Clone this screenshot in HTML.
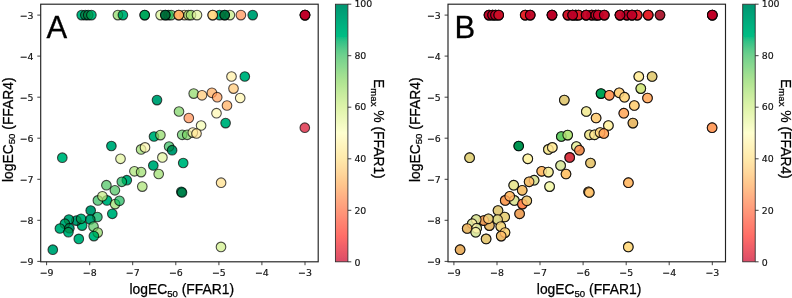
<!DOCTYPE html>
<html><head><meta charset="utf-8"><title>Figure</title>
<style>
html,body{margin:0;padding:0;background:#fff;}
svg{display:block;}
.tk text{font-family:"DejaVu Sans","Liberation Sans",sans-serif;font-size:9.4px;fill:#111;stroke:#111;stroke-width:0.15px;}
.big{font-family:"Liberation Sans",sans-serif;font-size:31px;fill:#000;stroke:#000;stroke-width:0.3px;}
.lab{font-family:"Liberation Sans",sans-serif;font-size:13.85px;fill:#000;stroke:#000;stroke-width:0.25px;}
.sub{font-size:9.6px;}
</style></head><body>
<svg width="792" height="298" viewBox="0 0 792 298">
<defs><linearGradient id="cb" x1="0" y1="0" x2="0" y2="1">
<stop offset="0%" stop-color="#006837"/>
<stop offset="2%" stop-color="#05713c"/>
<stop offset="4%" stop-color="#0a7b41"/>
<stop offset="6%" stop-color="#0f8446"/>
<stop offset="8%" stop-color="#148e4b"/>
<stop offset="10%" stop-color="#199750"/>
<stop offset="12%" stop-color="#279f53"/>
<stop offset="14%" stop-color="#36a657"/>
<stop offset="16%" stop-color="#45ad5b"/>
<stop offset="18%" stop-color="#57b65f"/>
<stop offset="20%" stop-color="#66bd63"/>
<stop offset="22%" stop-color="#73c264"/>
<stop offset="24%" stop-color="#7fc866"/>
<stop offset="26%" stop-color="#8ccd67"/>
<stop offset="28%" stop-color="#98d368"/>
<stop offset="30%" stop-color="#a5d86a"/>
<stop offset="32%" stop-color="#afdd70"/>
<stop offset="34%" stop-color="#bbe278"/>
<stop offset="36%" stop-color="#c5e67e"/>
<stop offset="38%" stop-color="#cfeb85"/>
<stop offset="40%" stop-color="#d9ef8b"/>
<stop offset="42%" stop-color="#e0f295"/>
<stop offset="44%" stop-color="#e8f59f"/>
<stop offset="46%" stop-color="#eff8aa"/>
<stop offset="48%" stop-color="#f7fcb4"/>
<stop offset="50%" stop-color="#feffbe"/>
<stop offset="52%" stop-color="#fff8b4"/>
<stop offset="54%" stop-color="#fff2aa"/>
<stop offset="56%" stop-color="#feec9f"/>
<stop offset="58%" stop-color="#fee695"/>
<stop offset="60%" stop-color="#fee08b"/>
<stop offset="62%" stop-color="#fed683"/>
<stop offset="64%" stop-color="#fecc7b"/>
<stop offset="66%" stop-color="#fdc372"/>
<stop offset="68%" stop-color="#fdb768"/>
<stop offset="70%" stop-color="#fdad60"/>
<stop offset="72%" stop-color="#fba05b"/>
<stop offset="74%" stop-color="#f99355"/>
<stop offset="76%" stop-color="#f8864f"/>
<stop offset="78%" stop-color="#f67a49"/>
<stop offset="80%" stop-color="#f46d43"/>
<stop offset="82%" stop-color="#ee613e"/>
<stop offset="84%" stop-color="#e75337"/>
<stop offset="86%" stop-color="#e24731"/>
<stop offset="88%" stop-color="#dc3b2c"/>
<stop offset="90%" stop-color="#d62f27"/>
<stop offset="92%" stop-color="#cc2627"/>
<stop offset="94%" stop-color="#c21c27"/>
<stop offset="96%" stop-color="#b91326"/>
<stop offset="98%" stop-color="#af0926"/>
<stop offset="100%" stop-color="#a50026"/>
</linearGradient>
<filter id="cc" filterUnits="userSpaceOnUse" x="0" y="0" width="792" height="298" color-interpolation-filters="linearRGB">
<feColorMatrix type="matrix" values="1.3984 -0.3984 0 0 0  0 1 0 0 0  0 -0.0429 1.0429 0 0  0 0 0 1 0"/>
<feGaussianBlur stdDeviation="0.45"/>
</filter></defs>
<g filter="url(#cc)">
<rect width="792" height="298" fill="#fff"/>
<g stroke="#000" stroke-width="1.1" fill-opacity="0.7" stroke-opacity="0.7">
<circle cx="81.7" cy="15.1" r="4.8" fill="#199750"/>
<circle cx="85.3" cy="15.1" r="4.8" fill="#07753e"/>
<circle cx="88.2" cy="15.1" r="4.8" fill="#0c7f43"/>
<circle cx="91.4" cy="15.1" r="4.8" fill="#279f53"/>
<circle cx="117.9" cy="15.1" r="4.8" fill="#a5d86a"/>
<circle cx="122.9" cy="15.1" r="4.8" fill="#199750"/>
<circle cx="144.7" cy="15.1" r="4.8" fill="#279f53"/>
<circle cx="144.7" cy="15.1" r="4.8" fill="#279f53"/>
<circle cx="160.6" cy="15.1" r="4.8" fill="#e0f295"/>
<circle cx="168.5" cy="15.1" r="4.8" fill="#148e4b"/>
<circle cx="171.2" cy="15.1" r="4.8" fill="#84ca66"/>
<circle cx="165.3" cy="15.1" r="4.8" fill="#006837"/>
<circle cx="165.3" cy="15.1" r="4.8" fill="#006837"/>
<circle cx="184.5" cy="15.1" r="4.8" fill="#fee08b"/>
<circle cx="178.8" cy="15.1" r="4.8" fill="#fdad60"/>
<circle cx="178.8" cy="15.1" r="4.8" fill="#fdad60"/>
<circle cx="188.6" cy="15.1" r="4.8" fill="#afdd70"/>
<circle cx="191.0" cy="15.1" r="4.8" fill="#bbe278"/>
<circle cx="197.0" cy="15.1" r="4.8" fill="#e8f59f"/>
<circle cx="219.6" cy="15.1" r="4.8" fill="#199750"/>
<circle cx="212.7" cy="15.1" r="4.8" fill="#fed683"/>
<circle cx="212.7" cy="15.1" r="4.8" fill="#fed683"/>
<circle cx="229.9" cy="15.1" r="4.8" fill="#cfeb85"/>
<circle cx="224.7" cy="15.1" r="4.8" fill="#05713c"/>
<circle cx="224.7" cy="15.1" r="4.8" fill="#05713c"/>
<circle cx="240.9" cy="15.1" r="4.8" fill="#f98e52"/>
<circle cx="252.7" cy="15.1" r="4.8" fill="#0c7f43"/>
<circle cx="305.0" cy="15.1" r="4.8" fill="#a50026"/>
<circle cx="305.0" cy="15.1" r="4.8" fill="#a50026"/>
<circle cx="305.0" cy="15.1" r="4.8" fill="#a50026"/>
<circle cx="305.0" cy="15.1" r="4.8" fill="#a50026"/>
<circle cx="231.5" cy="76.5" r="4.8" fill="#fff0a6"/>
<circle cx="244.8" cy="76.5" r="4.8" fill="#199750"/>
<circle cx="233.5" cy="88.6" r="4.8" fill="#fdc776"/>
<circle cx="193.7" cy="93.6" r="4.8" fill="#a5d86a"/>
<circle cx="202.0" cy="95.3" r="4.8" fill="#fdc776"/>
<circle cx="211.9" cy="92.8" r="4.8" fill="#fdad60"/>
<circle cx="217.2" cy="97.2" r="4.8" fill="#fba05b"/>
<circle cx="240.2" cy="98.0" r="4.8" fill="#fff6b0"/>
<circle cx="227.0" cy="105.5" r="4.8" fill="#fdad60"/>
<circle cx="216.5" cy="113.2" r="4.8" fill="#fff8b4"/>
<circle cx="179.0" cy="111.5" r="4.8" fill="#98d368"/>
<circle cx="188.8" cy="118.0" r="4.8" fill="#f98e52"/>
<circle cx="225.6" cy="123.1" r="4.8" fill="#199750"/>
<circle cx="201.1" cy="125.5" r="4.8" fill="#f7fcb4"/>
<circle cx="304.8" cy="127.7" r="4.8" fill="#af0926"/>
<circle cx="157.0" cy="100.1" r="4.8" fill="#0c7f43"/>
<circle cx="182.2" cy="134.8" r="4.8" fill="#84ca66"/>
<circle cx="187.2" cy="134.8" r="4.8" fill="#98d368"/>
<circle cx="192.8" cy="132.6" r="4.8" fill="#fff6b0"/>
<circle cx="196.5" cy="133.5" r="4.8" fill="#fee695"/>
<circle cx="154.0" cy="136.5" r="4.8" fill="#199750"/>
<circle cx="160.4" cy="135.1" r="4.8" fill="#a5d86a"/>
<circle cx="111.4" cy="146.0" r="4.8" fill="#148e4b"/>
<circle cx="141.1" cy="149.4" r="4.8" fill="#afdd70"/>
<circle cx="145.0" cy="147.4" r="4.8" fill="#fff8b4"/>
<circle cx="169.1" cy="146.5" r="4.8" fill="#66bd63"/>
<circle cx="172.1" cy="150.2" r="4.8" fill="#07753e"/>
<circle cx="120.5" cy="158.8" r="4.8" fill="#e8f59f"/>
<circle cx="162.4" cy="157.4" r="4.8" fill="#e8f59f"/>
<circle cx="183.2" cy="163.0" r="4.8" fill="#279f53"/>
<circle cx="153.3" cy="165.5" r="4.8" fill="#148e4b"/>
<circle cx="62.3" cy="157.7" r="4.8" fill="#279f53"/>
<circle cx="158.7" cy="174.0" r="4.8" fill="#afdd70"/>
<circle cx="134.4" cy="171.3" r="4.8" fill="#bbe278"/>
<circle cx="141.1" cy="172.1" r="4.8" fill="#afdd70"/>
<circle cx="126.8" cy="180.2" r="4.8" fill="#148e4b"/>
<circle cx="121.8" cy="181.8" r="4.8" fill="#57b65f"/>
<circle cx="106.4" cy="185.2" r="4.8" fill="#73c264"/>
<circle cx="142.3" cy="186.6" r="4.8" fill="#bbe278"/>
<circle cx="114.9" cy="190.3" r="4.8" fill="#73c264"/>
<circle cx="221.1" cy="182.7" r="4.8" fill="#fee08b"/>
<circle cx="181.3" cy="191.8" r="4.8" fill="#148e4b"/>
<circle cx="182.0" cy="192.5" r="4.8" fill="#05713c"/>
<circle cx="97.9" cy="200.4" r="4.8" fill="#66bd63"/>
<circle cx="107.0" cy="200.4" r="4.8" fill="#199750"/>
<circle cx="102.4" cy="196.3" r="4.8" fill="#cfeb85"/>
<circle cx="115.1" cy="204.1" r="4.8" fill="#afdd70"/>
<circle cx="119.5" cy="200.8" r="4.8" fill="#57b65f"/>
<circle cx="112.3" cy="213.8" r="4.8" fill="#199750"/>
<circle cx="90.7" cy="210.5" r="4.8" fill="#07753e"/>
<circle cx="97.4" cy="217.0" r="4.8" fill="#3faa59"/>
<circle cx="90.3" cy="219.5" r="4.8" fill="#0c7f43"/>
<circle cx="93.5" cy="226.6" r="4.8" fill="#7fc866"/>
<circle cx="97.7" cy="232.6" r="4.8" fill="#a5d86a"/>
<circle cx="93.9" cy="236.1" r="4.8" fill="#279f53"/>
<circle cx="82.1" cy="225.6" r="4.8" fill="#279f53"/>
<circle cx="76.4" cy="220.6" r="4.8" fill="#07753e"/>
<circle cx="81.1" cy="218.8" r="4.8" fill="#199750"/>
<circle cx="68.9" cy="219.6" r="4.8" fill="#118848"/>
<circle cx="64.9" cy="223.7" r="4.8" fill="#148e4b"/>
<circle cx="59.9" cy="228.5" r="4.8" fill="#199750"/>
<circle cx="69.4" cy="228.2" r="4.8" fill="#07753e"/>
<circle cx="68.4" cy="232.2" r="4.8" fill="#199750"/>
<circle cx="78.8" cy="238.9" r="4.8" fill="#199750"/>
<circle cx="52.8" cy="249.7" r="4.8" fill="#118848"/>
<circle cx="221.0" cy="246.9" r="4.8" fill="#d9ef8b"/>
</g>
<rect x="40.7" y="4.2" width="277.5" height="257.6" fill="none" stroke="#222" stroke-width="1.15"/>
<g stroke="#2a2a2a" stroke-width="0.9">
<line x1="46.6" y1="261.8" x2="46.6" y2="265.2"/>
<line x1="37.3" y1="15.1" x2="40.7" y2="15.1"/>
<line x1="89.7" y1="261.8" x2="89.7" y2="265.2"/>
<line x1="37.3" y1="56.1" x2="40.7" y2="56.1"/>
<line x1="132.7" y1="261.8" x2="132.7" y2="265.2"/>
<line x1="37.3" y1="97.2" x2="40.7" y2="97.2"/>
<line x1="175.8" y1="261.8" x2="175.8" y2="265.2"/>
<line x1="37.3" y1="138.2" x2="40.7" y2="138.2"/>
<line x1="218.9" y1="261.8" x2="218.9" y2="265.2"/>
<line x1="37.3" y1="179.3" x2="40.7" y2="179.3"/>
<line x1="261.9" y1="261.8" x2="261.9" y2="265.2"/>
<line x1="37.3" y1="220.3" x2="40.7" y2="220.3"/>
<line x1="305.0" y1="261.8" x2="305.0" y2="265.2"/>
<line x1="37.3" y1="261.4" x2="40.7" y2="261.4"/>
</g>
<g class="tk">
<text x="46.6" y="275.8" text-anchor="middle">−9</text>
<text x="33.5" y="18.6" text-anchor="end">−3</text>
<text x="89.7" y="275.8" text-anchor="middle">−8</text>
<text x="33.5" y="59.6" text-anchor="end">−4</text>
<text x="132.7" y="275.8" text-anchor="middle">−7</text>
<text x="33.5" y="100.7" text-anchor="end">−5</text>
<text x="175.8" y="275.8" text-anchor="middle">−6</text>
<text x="33.5" y="141.8" text-anchor="end">−6</text>
<text x="218.9" y="275.8" text-anchor="middle">−5</text>
<text x="33.5" y="182.8" text-anchor="end">−7</text>
<text x="261.9" y="275.8" text-anchor="middle">−4</text>
<text x="33.5" y="223.8" text-anchor="end">−8</text>
<text x="305.0" y="275.8" text-anchor="middle">−3</text>
<text x="33.5" y="264.9" text-anchor="end">−9</text>
</g>
<text class="big" x="46.4" y="38.3">A</text>
<text class="lab" x="181.8" y="294.2" text-anchor="middle">logEC<tspan class="sub" dy="2.5">50</tspan><tspan dy="-2.5"> (FFAR1)</tspan></text>
<text class="lab" transform="translate(12.6,129.7) rotate(-90)" text-anchor="middle">logEC<tspan class="sub" dy="2.5">50</tspan><tspan dy="-2.5"> (FFAR4)</tspan></text>
<rect x="335.4" y="4.2" width="12.5" height="257.6" fill="url(#cb)" fill-opacity="0.7"/>
<rect x="335.4" y="4.2" width="12.5" height="257.6" fill="none" stroke="#2a2a2a" stroke-width="0.85"/>
<g stroke="#2a2a2a" stroke-width="0.9">
<line x1="347.9" y1="4.2" x2="351.3" y2="4.2"/>
<line x1="347.9" y1="55.7" x2="351.3" y2="55.7"/>
<line x1="347.9" y1="107.2" x2="351.3" y2="107.2"/>
<line x1="347.9" y1="158.8" x2="351.3" y2="158.8"/>
<line x1="347.9" y1="210.3" x2="351.3" y2="210.3"/>
<line x1="347.9" y1="261.8" x2="351.3" y2="261.8"/>
</g><g class="tk">
<text x="354.4" y="6.8">100</text>
<text x="354.4" y="58.6">80</text>
<text x="354.4" y="110.3">60</text>
<text x="354.4" y="162.1">40</text>
<text x="354.4" y="213.8">20</text>
<text x="354.4" y="265.6">0</text>
</g>
<text class="lab" transform="translate(373.9,128.9) rotate(90)" text-anchor="middle">E<tspan class="sub" dy="2.5">max</tspan><tspan dy="-2.5"> % (FFAR1)</tspan></text>
<g stroke="#000" stroke-width="1.1" fill-opacity="0.7" stroke-opacity="0.7">
<circle cx="489.0" cy="15.1" r="4.8" fill="#199750"/>
<circle cx="492.6" cy="15.1" r="4.8" fill="#07753e"/>
<circle cx="495.5" cy="15.1" r="4.8" fill="#0c7f43"/>
<circle cx="498.7" cy="15.1" r="4.8" fill="#279f53"/>
<circle cx="525.2" cy="15.1" r="4.8" fill="#a5d86a"/>
<circle cx="530.2" cy="15.1" r="4.8" fill="#199750"/>
<circle cx="552.0" cy="15.1" r="4.8" fill="#279f53"/>
<circle cx="552.0" cy="15.1" r="4.8" fill="#279f53"/>
<circle cx="567.9" cy="15.1" r="4.8" fill="#e0f295"/>
<circle cx="575.8" cy="15.1" r="4.8" fill="#148e4b"/>
<circle cx="578.5" cy="15.1" r="4.8" fill="#84ca66"/>
<circle cx="572.6" cy="15.1" r="4.8" fill="#006837"/>
<circle cx="572.6" cy="15.1" r="4.8" fill="#006837"/>
<circle cx="591.8" cy="15.1" r="4.8" fill="#fee08b"/>
<circle cx="586.1" cy="15.1" r="4.8" fill="#fdad60"/>
<circle cx="586.1" cy="15.1" r="4.8" fill="#fdad60"/>
<circle cx="595.9" cy="15.1" r="4.8" fill="#afdd70"/>
<circle cx="598.3" cy="15.1" r="4.8" fill="#bbe278"/>
<circle cx="604.3" cy="15.1" r="4.8" fill="#e8f59f"/>
<circle cx="626.9" cy="15.1" r="4.8" fill="#199750"/>
<circle cx="620.0" cy="15.1" r="4.8" fill="#fed683"/>
<circle cx="620.0" cy="15.1" r="4.8" fill="#fed683"/>
<circle cx="637.2" cy="15.1" r="4.8" fill="#cfeb85"/>
<circle cx="632.0" cy="15.1" r="4.8" fill="#05713c"/>
<circle cx="632.0" cy="15.1" r="4.8" fill="#05713c"/>
<circle cx="648.2" cy="15.1" r="4.8" fill="#f98e52"/>
<circle cx="660.0" cy="15.1" r="4.8" fill="#0c7f43"/>
<circle cx="638.8" cy="76.5" r="4.8" fill="#fff0a6"/>
<circle cx="652.1" cy="76.5" r="4.8" fill="#199750"/>
<circle cx="640.8" cy="88.6" r="4.8" fill="#fdc776"/>
<circle cx="601.0" cy="93.6" r="4.8" fill="#a5d86a"/>
<circle cx="609.3" cy="95.3" r="4.8" fill="#fdc776"/>
<circle cx="619.2" cy="92.8" r="4.8" fill="#fdad60"/>
<circle cx="624.5" cy="97.2" r="4.8" fill="#fba05b"/>
<circle cx="647.5" cy="98.0" r="4.8" fill="#fff6b0"/>
<circle cx="634.3" cy="105.5" r="4.8" fill="#fdad60"/>
<circle cx="623.8" cy="113.2" r="4.8" fill="#fff8b4"/>
<circle cx="586.3" cy="111.5" r="4.8" fill="#98d368"/>
<circle cx="596.1" cy="118.0" r="4.8" fill="#f98e52"/>
<circle cx="632.9" cy="123.1" r="4.8" fill="#199750"/>
<circle cx="608.4" cy="125.5" r="4.8" fill="#f7fcb4"/>
<circle cx="712.1" cy="127.7" r="4.8" fill="#af0926"/>
<circle cx="564.3" cy="100.1" r="4.8" fill="#0c7f43"/>
<circle cx="589.5" cy="134.8" r="4.8" fill="#84ca66"/>
<circle cx="594.5" cy="134.8" r="4.8" fill="#98d368"/>
<circle cx="600.1" cy="132.6" r="4.8" fill="#fff6b0"/>
<circle cx="603.8" cy="133.5" r="4.8" fill="#fee695"/>
<circle cx="561.3" cy="136.5" r="4.8" fill="#199750"/>
<circle cx="567.7" cy="135.1" r="4.8" fill="#a5d86a"/>
<circle cx="518.7" cy="146.0" r="4.8" fill="#148e4b"/>
<circle cx="548.4" cy="149.4" r="4.8" fill="#afdd70"/>
<circle cx="552.3" cy="147.4" r="4.8" fill="#fff8b4"/>
<circle cx="576.4" cy="146.5" r="4.8" fill="#66bd63"/>
<circle cx="579.4" cy="150.2" r="4.8" fill="#07753e"/>
<circle cx="527.8" cy="158.8" r="4.8" fill="#e8f59f"/>
<circle cx="569.7" cy="157.4" r="4.8" fill="#e8f59f"/>
<circle cx="590.5" cy="163.0" r="4.8" fill="#279f53"/>
<circle cx="560.6" cy="165.5" r="4.8" fill="#148e4b"/>
<circle cx="469.6" cy="157.7" r="4.8" fill="#279f53"/>
<circle cx="566.0" cy="174.0" r="4.8" fill="#afdd70"/>
<circle cx="541.7" cy="171.3" r="4.8" fill="#bbe278"/>
<circle cx="548.4" cy="172.1" r="4.8" fill="#afdd70"/>
<circle cx="534.1" cy="180.2" r="4.8" fill="#148e4b"/>
<circle cx="529.1" cy="181.8" r="4.8" fill="#57b65f"/>
<circle cx="513.7" cy="185.2" r="4.8" fill="#73c264"/>
<circle cx="549.6" cy="186.6" r="4.8" fill="#bbe278"/>
<circle cx="522.2" cy="190.3" r="4.8" fill="#73c264"/>
<circle cx="628.4" cy="182.7" r="4.8" fill="#fee08b"/>
<circle cx="588.6" cy="191.8" r="4.8" fill="#148e4b"/>
<circle cx="589.3" cy="192.5" r="4.8" fill="#05713c"/>
<circle cx="505.2" cy="200.4" r="4.8" fill="#66bd63"/>
<circle cx="514.3" cy="200.4" r="4.8" fill="#199750"/>
<circle cx="509.7" cy="196.3" r="4.8" fill="#cfeb85"/>
<circle cx="522.4" cy="204.1" r="4.8" fill="#afdd70"/>
<circle cx="526.8" cy="200.8" r="4.8" fill="#57b65f"/>
<circle cx="519.6" cy="213.8" r="4.8" fill="#199750"/>
<circle cx="498.0" cy="210.5" r="4.8" fill="#07753e"/>
<circle cx="504.7" cy="217.0" r="4.8" fill="#3faa59"/>
<circle cx="497.6" cy="219.5" r="4.8" fill="#0c7f43"/>
<circle cx="500.8" cy="226.6" r="4.8" fill="#7fc866"/>
<circle cx="505.0" cy="232.6" r="4.8" fill="#a5d86a"/>
<circle cx="501.2" cy="236.1" r="4.8" fill="#279f53"/>
<circle cx="489.4" cy="225.6" r="4.8" fill="#279f53"/>
<circle cx="483.7" cy="220.6" r="4.8" fill="#07753e"/>
<circle cx="488.4" cy="218.8" r="4.8" fill="#199750"/>
<circle cx="476.2" cy="219.6" r="4.8" fill="#118848"/>
<circle cx="472.2" cy="223.7" r="4.8" fill="#148e4b"/>
<circle cx="467.2" cy="228.5" r="4.8" fill="#199750"/>
<circle cx="476.7" cy="228.2" r="4.8" fill="#07753e"/>
<circle cx="475.7" cy="232.2" r="4.8" fill="#199750"/>
<circle cx="486.1" cy="238.9" r="4.8" fill="#199750"/>
<circle cx="460.1" cy="249.7" r="4.8" fill="#118848"/>
<circle cx="628.3" cy="246.9" r="4.8" fill="#d9ef8b"/>
</g>
<g stroke="#000" stroke-width="1.1" fill-opacity="0.8" stroke-opacity="0.8">
<circle cx="489.0" cy="15.1" r="4.8" fill="#a50026"/>
<circle cx="489.0" cy="15.1" r="4.8" fill="#a50026"/>
<circle cx="492.6" cy="15.1" r="4.8" fill="#a50026"/>
<circle cx="492.6" cy="15.1" r="4.8" fill="#a50026"/>
<circle cx="495.5" cy="15.1" r="4.8" fill="#a90426"/>
<circle cx="495.5" cy="15.1" r="4.8" fill="#a90426"/>
<circle cx="498.7" cy="15.1" r="4.8" fill="#b30d26"/>
<circle cx="498.7" cy="15.1" r="4.8" fill="#b30d26"/>
<circle cx="525.2" cy="15.1" r="4.8" fill="#c62027"/>
<circle cx="525.2" cy="15.1" r="4.8" fill="#c62027"/>
<circle cx="530.2" cy="15.1" r="4.8" fill="#a90426"/>
<circle cx="530.2" cy="15.1" r="4.8" fill="#a90426"/>
<circle cx="552.0" cy="15.1" r="4.8" fill="#a50026"/>
<circle cx="552.0" cy="15.1" r="4.8" fill="#a50026"/>
<circle cx="567.9" cy="15.1" r="4.8" fill="#b30d26"/>
<circle cx="567.9" cy="15.1" r="4.8" fill="#b30d26"/>
<circle cx="575.8" cy="15.1" r="4.8" fill="#a90426"/>
<circle cx="575.8" cy="15.1" r="4.8" fill="#a90426"/>
<circle cx="578.5" cy="15.1" r="4.8" fill="#c21c27"/>
<circle cx="578.5" cy="15.1" r="4.8" fill="#c21c27"/>
<circle cx="572.6" cy="15.1" r="4.8" fill="#a50026"/>
<circle cx="572.6" cy="15.1" r="4.8" fill="#a50026"/>
<circle cx="591.8" cy="15.1" r="4.8" fill="#a90426"/>
<circle cx="591.8" cy="15.1" r="4.8" fill="#a90426"/>
<circle cx="586.1" cy="15.1" r="4.8" fill="#a50026"/>
<circle cx="586.1" cy="15.1" r="4.8" fill="#a50026"/>
<circle cx="595.9" cy="15.1" r="4.8" fill="#a90426"/>
<circle cx="595.9" cy="15.1" r="4.8" fill="#a90426"/>
<circle cx="598.3" cy="15.1" r="4.8" fill="#a90426"/>
<circle cx="598.3" cy="15.1" r="4.8" fill="#a90426"/>
<circle cx="604.3" cy="15.1" r="4.8" fill="#a90426"/>
<circle cx="604.3" cy="15.1" r="4.8" fill="#a90426"/>
<circle cx="626.9" cy="15.1" r="4.8" fill="#a50026"/>
<circle cx="626.9" cy="15.1" r="4.8" fill="#a50026"/>
<circle cx="620.0" cy="15.1" r="4.8" fill="#a50026"/>
<circle cx="620.0" cy="15.1" r="4.8" fill="#a50026"/>
<circle cx="637.2" cy="15.1" r="4.8" fill="#c21c27"/>
<circle cx="637.2" cy="15.1" r="4.8" fill="#c21c27"/>
<circle cx="632.0" cy="15.1" r="4.8" fill="#a50026"/>
<circle cx="632.0" cy="15.1" r="4.8" fill="#a50026"/>
<circle cx="648.2" cy="15.1" r="4.8" fill="#c21c27"/>
<circle cx="648.2" cy="15.1" r="4.8" fill="#c21c27"/>
<circle cx="660.0" cy="15.1" r="4.8" fill="#a50026"/>
<circle cx="712.3" cy="15.1" r="4.8" fill="#a50026"/>
<circle cx="712.3" cy="15.1" r="4.8" fill="#a50026"/>
<circle cx="712.3" cy="15.1" r="4.8" fill="#a50026"/>
<circle cx="712.3" cy="15.1" r="4.8" fill="#a50026"/>
<circle cx="638.8" cy="76.5" r="4.8" fill="#feec9f"/>
<circle cx="652.1" cy="76.5" r="4.8" fill="#fed683"/>
<circle cx="640.8" cy="88.6" r="4.8" fill="#cfeb85"/>
<circle cx="601.0" cy="93.6" r="4.8" fill="#17934e"/>
<circle cx="609.3" cy="95.3" r="4.8" fill="#f98e52"/>
<circle cx="619.2" cy="92.8" r="4.8" fill="#fed683"/>
<circle cx="624.5" cy="97.2" r="4.8" fill="#fee08b"/>
<circle cx="647.5" cy="98.0" r="4.8" fill="#fba05b"/>
<circle cx="634.3" cy="105.5" r="4.8" fill="#fed683"/>
<circle cx="623.8" cy="113.2" r="4.8" fill="#fba05b"/>
<circle cx="586.3" cy="111.5" r="4.8" fill="#fff0a6"/>
<circle cx="596.1" cy="118.0" r="4.8" fill="#feda86"/>
<circle cx="632.9" cy="123.1" r="4.8" fill="#fdbd6d"/>
<circle cx="608.4" cy="125.5" r="4.8" fill="#fff0a6"/>
<circle cx="712.1" cy="127.7" r="4.8" fill="#fdb365"/>
<circle cx="564.3" cy="100.1" r="4.8" fill="#fed683"/>
<circle cx="589.5" cy="134.8" r="4.8" fill="#feea9b"/>
<circle cx="594.5" cy="134.8" r="4.8" fill="#feea9b"/>
<circle cx="600.1" cy="132.6" r="4.8" fill="#feda86"/>
<circle cx="603.8" cy="133.5" r="4.8" fill="#fba05b"/>
<circle cx="561.3" cy="136.5" r="4.8" fill="#98d368"/>
<circle cx="567.7" cy="135.1" r="4.8" fill="#c5e67e"/>
<circle cx="518.7" cy="146.0" r="4.8" fill="#148e4b"/>
<circle cx="548.4" cy="149.4" r="4.8" fill="#feea9b"/>
<circle cx="552.3" cy="147.4" r="4.8" fill="#feea9b"/>
<circle cx="576.4" cy="146.5" r="4.8" fill="#fff6b0"/>
<circle cx="579.4" cy="150.2" r="4.8" fill="#f98e52"/>
<circle cx="527.8" cy="158.8" r="4.8" fill="#fff2aa"/>
<circle cx="569.7" cy="157.4" r="4.8" fill="#af0926"/>
<circle cx="590.5" cy="163.0" r="4.8" fill="#fecc7b"/>
<circle cx="560.6" cy="165.5" r="4.8" fill="#fff6b0"/>
<circle cx="469.6" cy="157.7" r="4.8" fill="#feda86"/>
<circle cx="566.0" cy="174.0" r="4.8" fill="#fdbd6d"/>
<circle cx="541.7" cy="171.3" r="4.8" fill="#fdb365"/>
<circle cx="548.4" cy="172.1" r="4.8" fill="#fff0a6"/>
<circle cx="534.1" cy="180.2" r="4.8" fill="#fff2aa"/>
<circle cx="529.1" cy="181.8" r="4.8" fill="#fdbd6d"/>
<circle cx="513.7" cy="185.2" r="4.8" fill="#feec9f"/>
<circle cx="549.6" cy="186.6" r="4.8" fill="#fffcba"/>
<circle cx="522.2" cy="190.3" r="4.8" fill="#fdbd6d"/>
<circle cx="628.4" cy="182.7" r="4.8" fill="#fdb365"/>
<circle cx="588.6" cy="191.8" r="4.8" fill="#fdbd6d"/>
<circle cx="589.3" cy="192.5" r="4.8" fill="#fecc7b"/>
<circle cx="505.2" cy="200.4" r="4.8" fill="#f99355"/>
<circle cx="514.3" cy="200.4" r="4.8" fill="#fff2aa"/>
<circle cx="509.7" cy="196.3" r="4.8" fill="#fdb365"/>
<circle cx="522.4" cy="204.1" r="4.8" fill="#f57245"/>
<circle cx="526.8" cy="200.8" r="4.8" fill="#fecc7b"/>
<circle cx="519.6" cy="213.8" r="4.8" fill="#fba05b"/>
<circle cx="498.0" cy="210.5" r="4.8" fill="#fed683"/>
<circle cx="504.7" cy="217.0" r="4.8" fill="#fed683"/>
<circle cx="497.6" cy="219.5" r="4.8" fill="#fee695"/>
<circle cx="500.8" cy="226.6" r="4.8" fill="#feda86"/>
<circle cx="505.0" cy="232.6" r="4.8" fill="#fed683"/>
<circle cx="501.2" cy="236.1" r="4.8" fill="#fdbd6d"/>
<circle cx="489.4" cy="225.6" r="4.8" fill="#fdbd6d"/>
<circle cx="483.7" cy="220.6" r="4.8" fill="#fba05b"/>
<circle cx="488.4" cy="218.8" r="4.8" fill="#fed683"/>
<circle cx="476.2" cy="219.6" r="4.8" fill="#fff2aa"/>
<circle cx="472.2" cy="223.7" r="4.8" fill="#fff2aa"/>
<circle cx="467.2" cy="228.5" r="4.8" fill="#fdbd6d"/>
<circle cx="476.7" cy="228.2" r="4.8" fill="#fff6b0"/>
<circle cx="475.7" cy="232.2" r="4.8" fill="#fff6b0"/>
<circle cx="486.1" cy="238.9" r="4.8" fill="#fed07e"/>
<circle cx="460.1" cy="249.7" r="4.8" fill="#fdb365"/>
<circle cx="628.3" cy="246.9" r="4.8" fill="#fed683"/>
</g>
<rect x="448.0" y="4.2" width="277.5" height="257.6" fill="none" stroke="#222" stroke-width="1.15"/>
<g stroke="#2a2a2a" stroke-width="0.9">
<line x1="453.9" y1="261.8" x2="453.9" y2="265.2"/>
<line x1="444.6" y1="15.1" x2="448.0" y2="15.1"/>
<line x1="497.0" y1="261.8" x2="497.0" y2="265.2"/>
<line x1="444.6" y1="56.1" x2="448.0" y2="56.1"/>
<line x1="540.0" y1="261.8" x2="540.0" y2="265.2"/>
<line x1="444.6" y1="97.2" x2="448.0" y2="97.2"/>
<line x1="583.1" y1="261.8" x2="583.1" y2="265.2"/>
<line x1="444.6" y1="138.2" x2="448.0" y2="138.2"/>
<line x1="626.2" y1="261.8" x2="626.2" y2="265.2"/>
<line x1="444.6" y1="179.3" x2="448.0" y2="179.3"/>
<line x1="669.2" y1="261.8" x2="669.2" y2="265.2"/>
<line x1="444.6" y1="220.3" x2="448.0" y2="220.3"/>
<line x1="712.3" y1="261.8" x2="712.3" y2="265.2"/>
<line x1="444.6" y1="261.4" x2="448.0" y2="261.4"/>
</g>
<g class="tk">
<text x="453.9" y="275.8" text-anchor="middle">−9</text>
<text x="440.8" y="18.6" text-anchor="end">−3</text>
<text x="497.0" y="275.8" text-anchor="middle">−8</text>
<text x="440.8" y="59.6" text-anchor="end">−4</text>
<text x="540.0" y="275.8" text-anchor="middle">−7</text>
<text x="440.8" y="100.7" text-anchor="end">−5</text>
<text x="583.1" y="275.8" text-anchor="middle">−6</text>
<text x="440.8" y="141.8" text-anchor="end">−6</text>
<text x="626.2" y="275.8" text-anchor="middle">−5</text>
<text x="440.8" y="182.8" text-anchor="end">−7</text>
<text x="669.2" y="275.8" text-anchor="middle">−4</text>
<text x="440.8" y="223.8" text-anchor="end">−8</text>
<text x="712.3" y="275.8" text-anchor="middle">−3</text>
<text x="440.8" y="264.9" text-anchor="end">−9</text>
</g>
<text class="big" x="454.4" y="38.3">B</text>
<text class="lab" x="589.1" y="294.2" text-anchor="middle">logEC<tspan class="sub" dy="2.5">50</tspan><tspan dy="-2.5"> (FFAR1)</tspan></text>
<text class="lab" transform="translate(419.9,129.7) rotate(-90)" text-anchor="middle">logEC<tspan class="sub" dy="2.5">50</tspan><tspan dy="-2.5"> (FFAR4)</tspan></text>
<rect x="742.7" y="4.2" width="12.5" height="257.6" fill="url(#cb)" fill-opacity="0.7"/>
<rect x="742.7" y="4.2" width="12.5" height="257.6" fill="none" stroke="#2a2a2a" stroke-width="0.85"/>
<g stroke="#2a2a2a" stroke-width="0.9">
<line x1="755.2" y1="4.2" x2="758.6" y2="4.2"/>
<line x1="755.2" y1="55.7" x2="758.6" y2="55.7"/>
<line x1="755.2" y1="107.2" x2="758.6" y2="107.2"/>
<line x1="755.2" y1="158.8" x2="758.6" y2="158.8"/>
<line x1="755.2" y1="210.3" x2="758.6" y2="210.3"/>
<line x1="755.2" y1="261.8" x2="758.6" y2="261.8"/>
</g><g class="tk">
<text x="761.7" y="6.8">100</text>
<text x="761.7" y="58.6">80</text>
<text x="761.7" y="110.3">60</text>
<text x="761.7" y="162.1">40</text>
<text x="761.7" y="213.8">20</text>
<text x="761.7" y="265.6">0</text>
</g>
<text class="lab" transform="translate(781.2,128.9) rotate(90)" text-anchor="middle">E<tspan class="sub" dy="2.5">max</tspan><tspan dy="-2.5"> % (FFAR4)</tspan></text>
</g>
</svg>
</body></html>
